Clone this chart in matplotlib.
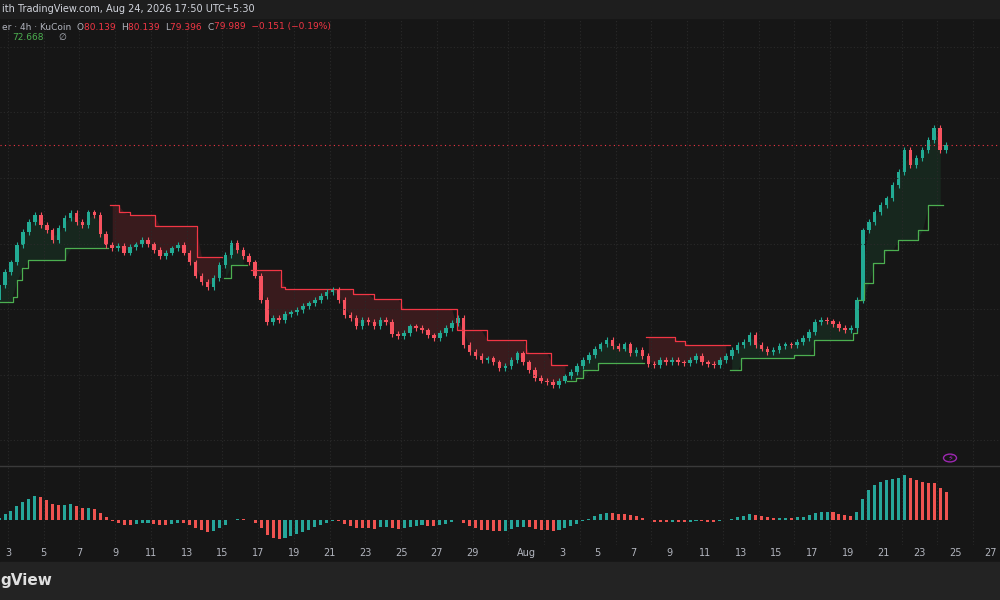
import numpy as np
import matplotlib

matplotlib.use("Agg")
import matplotlib.pyplot as plt

# 8-hour closes, Jul 2 00:00 onwards (3 per day)
CLOSE = [
    61.1, 62.9, 64.5,  65.7, 67.8, 69.4,  70.6, 71.5, 70.3,  69.6, 68.4, 69.9,
    71.1, 71.7, 70.6,  70.3, 71.8, 71.5,  69.2, 67.8, 67.4,  67.7, 66.9, 67.6,
    67.9, 68.4, 67.9,  67.2, 66.5, 66.9,  67.4, 67.8, 66.9,  65.7, 64.1, 63.3,
    62.7, 63.8, 65.4,  66.6, 68.1, 67.2,  66.5, 65.7, 64.1,  61.1, 58.4, 58.9,
    58.7, 59.4, 59.6,  59.9, 60.4, 60.7,  61.1, 61.6, 62.1,  62.3, 61.1, 59.3,
    58.9, 57.9, 58.7,  58.4, 57.9, 58.7,  58.4, 57.0, 56.7,  57.1, 57.9, 57.7,
    57.4, 56.8, 56.5,  57.1, 57.7, 58.3,  58.9, 55.6, 54.8,  54.3, 53.8, 54.0,
    53.5, 52.8, 53.1,  53.8, 54.6, 53.5,  52.6, 51.6, 51.3,  51.1, 50.7, 51.3,
    51.8, 52.3, 53.1,  53.8, 54.4, 55.2,  55.7, 56.2, 55.5,  55.2, 55.7, 54.7,
    55.0, 54.3, 53.3,  53.2, 53.8, 53.5,  53.8, 53.5, 53.4,  53.8, 54.3, 53.5,
    53.3, 53.2, 53.8,  54.3, 55.0, 55.6,  56.0, 56.9, 55.6,  55.2, 54.8, 55.0,
    55.5, 55.7, 55.6,  56.0, 56.5, 57.2,  58.4, 58.7, 58.5,  58.2, 57.7, 57.4,
    57.7, 61.1, 69.6,  70.6, 71.8, 72.7,  73.5, 75.1, 76.7,  79.4, 77.6, 78.4,
    79.4, 80.6, 82.1,  79.4, 80.0,
]
# supertrend steps: (day offset from Jul 2, level)
ST_UP = [
    [(0.0, 60.9), (1.3, 61.5), (1.5, 63.5), (1.8, 65.0), (2.1, 66.0), (4.2, 67.4), (6.6, 67.4)],
    [(13.1, 63.8), (13.5, 65.4), (14.4, 65.4)],
    [(32.3, 51.3), (32.8, 51.6), (33.2, 52.6), (34.0, 53.4), (36.6, 53.4)],
    [(41.4, 52.6), (42.0, 54.0), (45.0, 54.4), (46.1, 56.2), (48.3, 57.1), (48.5, 61.1),
     (48.9, 63.2), (49.4, 65.6), (50.0, 67.2), (50.8, 68.4), (51.9, 69.6), (52.5, 72.7),
     (53.3, 72.7)],
]
ST_DN = [
    [(6.7, 72.7), (7.2, 71.8), (7.8, 71.5), (9.2, 70.1), (11.6, 66.3), (13.0, 66.3)],
    [(14.6, 64.8), (16.3, 62.7), (16.5, 62.4), (20.3, 61.8), (21.5, 61.2), (23.0, 60.0),
     (26.1, 57.4), (27.8, 56.2), (30.0, 54.6), (31.4, 53.2), (32.3, 53.2)],
    [(36.7, 56.6), (38.3, 56.1), (38.9, 55.6), (41.4, 55.6)],
]
JUL_TICKS = [3, 5, 7, 9, 11, 13, 15, 17, 19, 21, 23, 25, 27, 29]
AUG_TICKS = [3, 5, 7, 9, 11, 13, 15, 17, 19, 21, 23, 25, 27]

BG = "#161616"
UP = "#22ab94"
DN = "#f7525f"
GRID = "#2a2a2a"
WICK_PAD = 0.35
PX_DAY = 17.87


def day_to_fx(d):
    return (8 + (d - 1) * PX_DAY) / 1000


close = np.array(CLOSE)
t = np.arange(len(close)) / 3.0 + 1 / 6
opn = np.r_[close[0], close[:-1]]
up = close >= opn
xlim = (1 - 8 / PX_DAY, 1 + 992 / PX_DAY)

fig = plt.figure(figsize=(10, 6), dpi=100, facecolor=BG)
ax = fig.add_axes([0, 135 / 600, 1, 447 / 600], facecolor=BG)
hx = fig.add_axes([0, 55 / 600, 1, 78 / 600], facecolor=BG)

for a in (ax, hx):
    a.set_xlim(*xlim)
    for s in a.spines.values():
        s.set_visible(False)
    a.tick_params(length=0, labelleft=False, labelbottom=False)
    a.set_xticks(np.arange(1, 57, 2))
    a.grid(True, color=GRID, linestyle=(0, (1, 2)), linewidth=0.8)
ax.set_ylim(41.0, 95.5)
ax.set_yticks(np.arange(44, 96, 8))


# supertrend lines + fills
def step_val(seg, x):
    xs = [p[0] for p in seg]
    i = np.searchsorted(xs, x, side="right") - 1
    return seg[max(i, 0)][1]


for segs, col, fc in ((ST_UP, "#4caf50", (0.15, 0.65, 0.35, 0.12)),
                      (ST_DN, "#f23645", (0.95, 0.21, 0.27, 0.16))):
    for seg in segs:
        xs = [p[0] for p in seg]
        ys = [p[1] for p in seg]
        ax.plot(xs, ys, drawstyle="steps-post", color=col, linewidth=0.9)
        m = (t >= xs[0]) & (t <= xs[-1])
        lv = [step_val(seg, x) for x in t[m]]
        mid = (close[m] + opn[m]) / 2
        ax.fill_between(t[m], lv, mid, color=fc, linewidth=0)

# candles
cols = np.where(up, UP, DN)
ax.vlines(t, np.minimum(opn, close) - WICK_PAD, np.maximum(opn, close) + WICK_PAD,
          colors=cols, linewidth=0.8)
ax.bar(t, np.maximum(np.abs(close - opn), 0.08), bottom=np.minimum(opn, close),
       width=0.2, color=cols, linewidth=0)

ax.axhline(close[-1], color="#f23645", linestyle=(0, (1, 3)), linewidth=0.8)


# oscillator (fast minus slow EMA of closes), coloured by direction
def ema(x, n):
    out = np.empty_like(x)
    k = 2 / (n + 1)
    out[0] = x[0]
    for i in range(1, len(x)):
        out[i] = x[i] * k + out[i - 1] * (1 - k)
    return out


osc = ema(close, 6) - ema(close, 13)
hcol = np.where(np.r_[True, np.diff(osc) >= 0], "#26a69a", "#ef5350")
hx.bar(t, osc, width=0.17, color=hcol, linewidth=0)
top = osc.max()
hx.set_ylim(-top * 0.55, top * 1.18)
hx.set_yticks([])
fig.add_artist(plt.Line2D([0, 1], [1 - 466 / 600] * 2, color="#3a3a3a", linewidth=1))

# date labels
ty = 1 - 553 / 600
for d in JUL_TICKS:
    fig.text(day_to_fx(d - 2), ty, str(d), color="#b2b5be",
             fontsize=7, ha="center", va="center")
fig.text(day_to_fx(30), ty, "Aug", color="#b2b5be", fontsize=7, ha="center", va="center")
for d in AUG_TICKS:
    fig.text(day_to_fx(d + 29), ty, str(d), color="#b2b5be",
             fontsize=7, ha="center", va="center")

# banners
fig.add_artist(plt.Rectangle((0, 1 - 18 / 600), 1, 18 / 600, color="#1e1e1e",
                             transform=fig.transFigure))
fig.text(0.002, 1 - 9 / 600, "ith TradingView.com, Aug 24, 2026 17:50 UTC+5:30",
         color="#d1d4dc", fontsize=7, va="center")
fig.add_artist(plt.Rectangle((0, 0), 1, 38 / 600, color="#232323",
                             transform=fig.transFigure))
fig.text(0.0, 19 / 600, "gView", color="#e0e0e0", fontsize=11, fontweight="bold",
         va="center")

y2 = 1 - 27 / 600
x0 = 0.002
parts = [("er · 4h · KuCoin  O", "#b2b5be"), ("80.139  ", "#f23645"), ("H", "#b2b5be"),
         ("80.139  ", "#f23645"), ("L", "#b2b5be"), ("79.396  ", "#f23645"),
         ("C", "#b2b5be"), ("79.989  −0.151 (−0.19%)", "#f23645")]
r = fig.canvas.get_renderer()
for txt, c in parts:
    tx = fig.text(x0, y2, txt, color=c, fontsize=6.5, va="center")
    x0 += tx.get_window_extent(r).width / 1000
fig.text(0.012, 1 - 37 / 600, "72.668", color="#4caf50", fontsize=6.5, va="center")
fig.text(0.058, 1 - 37 / 600, "∅", color="#b2b5be", fontsize=6.5, va="center")

# lightning icon
fig.add_artist(plt.Circle((0.95, 1 - 458 / 600), 0.0065, transform=fig.transFigure,
                          fill=False, edgecolor="#9c27b0", linewidth=1))
fig.text(0.95, 1 - 458 / 600, "⚡", color="#9c27b0", fontsize=6, ha="center", va="center")

fig.savefig("out.png", dpi=100, facecolor=BG)
